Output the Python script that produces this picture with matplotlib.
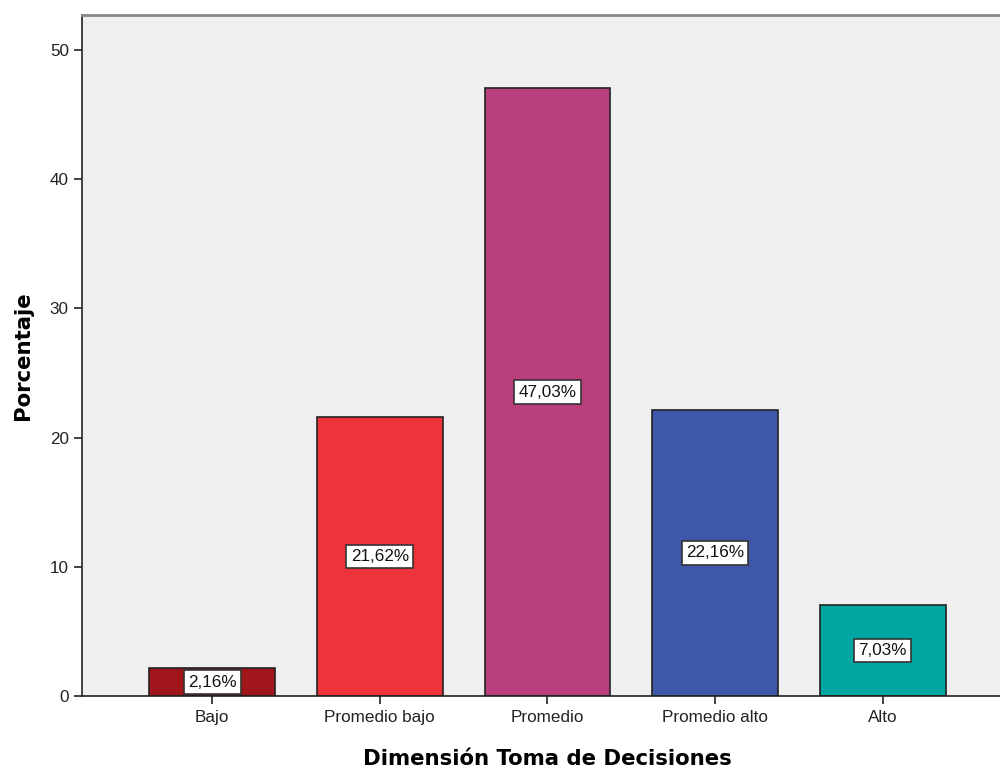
import matplotlib
matplotlib.use("Agg")
import matplotlib.pyplot as plt

categories = ["Bajo", "Promedio bajo", "Promedio", "Promedio alto", "Alto"]
values = [2.16, 21.62, 47.03, 22.16, 7.03]
labels = ["2,16%", "21,62%", "47,03%", "22,16%", "7,03%"]
colors = ["#a0161b", "#ef333a", "#b83f7c", "#3f57a8", "#00a6a1"]
yticks = [0, 10, 20, 30, 40, 50]

plt.rcParams['font.family'] = ['Liberation Sans', 'DejaVu Sans']

fig = plt.figure(figsize=(10, 7.69), dpi=100)
ax = fig.add_axes([0.082, 0.0949, 0.918, 0.8856])
ax.set_facecolor("#efefef")

x = list(range(len(categories)))
ax.bar(x, values, width=0.75, color=colors, edgecolor="#222222", linewidth=1.2, zorder=2)
for xi, v, lab in zip(x, values, labels):
    ax.text(xi, v / 2, lab, ha="center", va="center", fontsize=12.3, color="#111111",
            bbox=dict(boxstyle="square,pad=0.25", facecolor="white", edgecolor="#333333", linewidth=1.2),
            zorder=3)

ax.set_xlim(-0.776, 4.70)
ax.set_ylim(0, 52.7)
ax.set_yticks(yticks)
ax.set_xticks(x)
ax.set_xticklabels(categories)
ax.tick_params(axis="both", labelsize=12.3, colors="#222222", length=6, width=1.2)
ax.tick_params(axis="x", pad=4)

ax.spines["right"].set_visible(False)
ax.spines["top"].set_color("#888888")
ax.spines["top"].set_linewidth(2)
for s in ["left", "bottom"]:
    ax.spines[s].set_color("#222222")
    ax.spines[s].set_linewidth(1.2)

ax.set_xlabel("Dimensión Toma de Decisiones", fontsize=15.3, fontweight="bold",
              family="DejaVu Sans")
ax.xaxis.set_label_coords(0.507, -0.078)
ax.set_ylabel("Porcentaje", fontsize=15.3, fontweight="bold",
              family="DejaVu Sans", labelpad=12)

fig.savefig("out.png", dpi=100)
